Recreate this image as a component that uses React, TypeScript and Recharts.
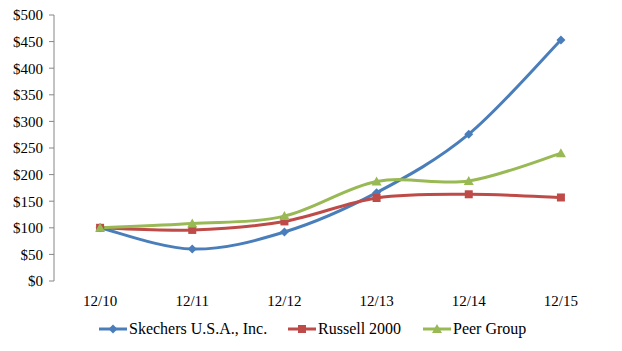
import React from "react";
import { Line, LineChart, XAxis, YAxis } from "recharts";

const categories = ["12/10", "12/11", "12/12", "12/13", "12/14", "12/15"];
const skechers = [100, 60, 92, 166, 276, 453];
const russell = [100, 96, 112, 156, 163, 157];
const peer = [100, 108, 122, 187, 188, 240];
const yTicks = [0, 50, 100, 150, 200, 250, 300, 350, 400, 450, 500];

const BLUE = "#4A7EBB";
const RED = "#BE4B48";
const GREEN = "#98B954";
const AXIS = "#868686";
const FONT = '"Liberation Serif", "Times New Roman", serif';

const data = categories.map((c, i) => ({
  x: i + 0.5,
  label: c,
  skechers: skechers[i],
  russell: russell[i],
  peer: peer[i],
}));

// Excel-style smoothed line: cubic bezier with Catmull-Rom control points
function excelSmooth(context: any) {
  let pts: [number, number][] = [];
  return {
    areaStart() {},
    areaEnd() {},
    lineStart() {
      pts = [];
    },
    point(x: number, y: number) {
      pts.push([+x, +y]);
    },
    lineEnd() {
      if (!pts.length) return;
      context.moveTo(pts[0][0], pts[0][1]);
      for (let i = 0; i < pts.length - 1; i++) {
        const p0 = pts[i - 1] || pts[i];
        const p1 = pts[i];
        const p2 = pts[i + 1];
        const p3 = pts[i + 2] || p2;
        context.bezierCurveTo(
          p1[0] + (p2[0] - p0[0]) / 6,
          p1[1] + (p2[1] - p0[1]) / 6,
          p2[0] - (p3[0] - p1[0]) / 6,
          p2[1] - (p3[1] - p1[1]) / 6,
          p2[0],
          p2[1],
        );
      }
    },
  };
}

type Shape = "diamond" | "square" | "triangle";

function Marker({ cx, cy, shape, color }: { cx: number; cy: number; shape: Shape; color: string }) {
  if (shape === "diamond")
    return <path d={`M${cx},${cy - 4.5}L${cx + 4.5},${cy}L${cx},${cy + 4.5}L${cx - 4.5},${cy}Z`} fill={color} />;
  if (shape === "square")
    return <rect x={cx - 4} y={cy - 4} width={8} height={8} fill={color} />;
  return <path d={`M${cx},${cy - 5}L${cx + 5},${cy + 4}L${cx - 5},${cy + 4}Z`} fill={color} />;
}

const dot = (shape: Shape, color: string) => (props: any) =>
  props.cx == null ? null : <Marker key={props.index} cx={props.cx} cy={props.cy} shape={shape} color={color} />;

const series = [
  { key: "skechers", name: "Skechers U.S.A., Inc.", color: BLUE, shape: "diamond" as Shape, left: 99 },
  { key: "russell", name: "Russell 2000", color: RED, shape: "square" as Shape, left: 288 },
  { key: "peer", name: "Peer Group", color: GREEN, shape: "triangle" as Shape, left: 423 },
];

const tickStyle = { fontSize: 15, fill: "#000", fontFamily: FONT };

export default function App() {
  return (
    <div style={{ position: "absolute", left: 0, top: 0, width: 622, height: 351, background: "#fff", fontFamily: FONT }}>
      <LineChart width={622} height={351} data={data} margin={{ top: 15, right: 15, left: 0, bottom: 0 }}>
        <XAxis
          xAxisId="bound"
          dataKey="x"
          type="number"
          domain={[0, 6]}
          ticks={[0, 1, 2, 3, 4, 5, 6]}
          tick={false}
          tickSize={5}
          height={0}
          axisLine={{ stroke: AXIS }}
          tickLine={{ stroke: AXIS }}
        />
        <XAxis
          xAxisId="lab"
          dataKey="x"
          type="number"
          domain={[0, 6]}
          ticks={categories.map((_, i) => i + 0.5)}
          tickFormatter={(v: number) => categories[Math.floor(v)]}
          axisLine={false}
          tickLine={false}
          tickSize={0}
          tickMargin={14}
          height={70}
          tick={tickStyle}
        />
        <YAxis
          width={54}
          domain={[0, 500]}
          ticks={yTicks}
          tickFormatter={(v: number) => `$${v}`}
          axisLine={{ stroke: AXIS }}
          tickLine={{ stroke: AXIS }}
          tickSize={5}
          tickMargin={6}
          tick={tickStyle}
        />
        {series.map((s) => (
          <Line
            key={s.key}
            xAxisId="bound"
            dataKey={s.key}
            name={s.name}
            type={excelSmooth as any}
            stroke={s.color}
            strokeWidth={3}
            dot={dot(s.shape, s.color)}
            activeDot={false}
            isAnimationActive={false}
          />
        ))}
      </LineChart>
      {series.map((s) => (
        <div
          key={s.key}
          style={{
            position: "absolute",
            left: s.left,
            top: 319,
            display: "flex",
            alignItems: "center",
            fontSize: 16,
            lineHeight: "20px",
            color: "#000",
            fontFamily: FONT,
            whiteSpace: "nowrap",
          }}
        >
          <svg width={28} height={12} style={{ marginRight: 2 }}>
            <line x1={0} y1={6} x2={28} y2={6} stroke={s.color} strokeWidth={3} />
            <Marker cx={14} cy={6} shape={s.shape} color={s.color} />
          </svg>
          <span>{s.name}</span>
        </div>
      ))}
    </div>
  );
}
